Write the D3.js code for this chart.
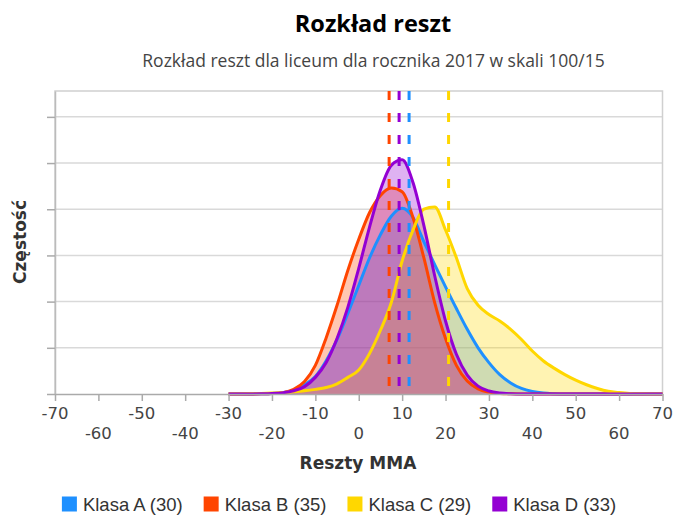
<!DOCTYPE html>
<html><head><meta charset="utf-8">
<script src="https://cdn.jsdelivr.net/npm/d3@7"></script>
<style>body{margin:0;background:#fff}svg{display:block}</style>
</head><body><svg id="c" width="678" height="518"></svg>
<script>
// ---- data ----
const xValues = [-30,-27.5,-25,-22.5,-20,-17.5,-15,-12.5,-10,-7.5,-5,-2.5,0,2.5,5,7.5,10,12.5,15,17.5,20,22.5,25,27.5,30,32.5,35,37.5,40,42.5,45,47.5,50,52.5,55,57.5,60,62.5,65,67.5,70];
const klasaA = [0,0,0.002,0.005,0.012,0.03,0.08,0.2,0.38,0.72,1.18,1.75,2.35,2.95,3.45,3.85,4.02,3.82,3.3,2.8,2.32,1.85,1.4,1.0,0.68,0.42,0.24,0.12,0.055,0.02,0.006,0,0,0,0,0,0,0,0,0,0];
const klasaB = [0,0,0,0.003,0.01,0.03,0.1,0.27,0.62,1.22,1.92,2.68,3.35,3.93,4.3,4.46,4.38,3.82,2.95,1.98,1.2,0.62,0.28,0.11,0.04,0.012,0.003,0,0,0,0,0,0,0,0,0,0,0,0,0,0];
const klasaC = [0,0.002,0.005,0.01,0.02,0.035,0.05,0.07,0.1,0.14,0.22,0.36,0.52,0.88,1.38,1.98,2.88,3.55,4.0,4.05,3.55,2.95,2.28,1.92,1.72,1.58,1.4,1.18,0.93,0.72,0.56,0.42,0.3,0.2,0.12,0.06,0.03,0.01,0.003,0,0];
const klasaD = [0,0,0.002,0.004,0.01,0.028,0.07,0.16,0.36,0.68,1.2,1.88,2.72,3.62,4.42,4.95,5.07,4.58,3.65,2.56,1.58,0.86,0.41,0.17,0.064,0.02,0.005,0,0,0,0,0,0,0,0,0,0,0,0,0,0];
const seriesNames = ["Klasa A (30)","Klasa B (35)","Klasa C (29)","Klasa D (33)"];
const seriesMeans = [11.6, 7.0, 20.7, 9.3];
const seriesColors = ["#1E90FF","#FF4500","#FFD700","#9400D3"];
const xTicks = [-70,-60,-50,-40,-30,-20,-10,0,10,20,30,40,50,60,70];
const yTicks = [0,1,2,3,4,5,6];
const titleText = "Rozkład reszt";
const subtitleText = "Rozkład reszt dla liceum dla rocznika 2017 w skali 100/15";
const xTitle = "Reszty MMA";
const yTitle = "Częstość";

const seriesValues = [klasaA, klasaB, klasaC, klasaD];
const series = seriesNames.map((n,i)=>({name:n, mean:seriesMeans[i], color:seriesColors[i],
  pts:xValues.map((x,j)=>({x, y:seriesValues[i][j]}))}));

// ---- layout ----
const L=55, R=662.5, T=91, B=394;
const svg = d3.select("#c");
const x = d3.scaleLinear().domain([-70,70]).range([L,R]);
const y = d3.scaleLinear().domain([0,6.56]).range([B,T]);

// titles
svg.append("text").attr("x",373).attr("y",32).attr("text-anchor","middle")
  .attr("font-family","'Open Sans',sans-serif").attr("font-weight","bold").attr("font-size",23.5)
  .attr("fill","#000").text(titleText);
svg.append("text").attr("x",373.5).attr("y",67).attr("text-anchor","middle")
  .attr("font-family","'Open Sans',sans-serif").attr("font-size",17.5)
  .attr("fill","#444").text(subtitleText);

// grid
svg.append("g").selectAll("line").data(yTicks.filter(d=>d>0)).join("line")
  .attr("x1",L).attr("x2",R).attr("y1",d=>y(d)).attr("y2",d=>y(d))
  .attr("stroke","#d9d9d9").attr("stroke-width",1.5);
// frame
svg.append("path").attr("d",`M${L},${B}V${T}H${R}V${B}`).attr("fill","none")
  .attr("stroke","#d0d0d0").attr("stroke-width",1.5);

// y axis ticks
const yAxis = d3.axisLeft(y).tickValues(yTicks).tickFormat("").tickSizeInner(8).tickSizeOuter(0);
const gy = svg.append("g").attr("transform",`translate(${L},0)`).call(yAxis);
gy.select(".domain").attr("stroke","#bbb").attr("stroke-width",1.5);
gy.selectAll(".tick line").attr("stroke","#aaa").attr("stroke-width",1.5);

// series
const area = d3.area().x(d=>x(d.x)).y0(y(0)).y1(d=>y(d.y)).curve(d3.curveMonotoneX);
const line = d3.line().x(d=>x(d.x)).y(d=>y(d.y)).curve(d3.curveMonotoneX);
const gs = svg.append("g");
series.forEach(s=>{
  gs.append("path").datum(s.pts).attr("d",area).attr("fill",s.color).attr("fill-opacity",0.3);
});
series.forEach(s=>{
  gs.append("path").datum(s.pts).attr("d",line).attr("fill","none").attr("stroke",s.color)
    .attr("stroke-width",3).attr("stroke-linejoin","round");
});
// mean lines
svg.append("g").selectAll("line").data(series).join("line")
  .attr("x1",d=>x(d.mean)).attr("x2",d=>x(d.mean)).attr("y1",T).attr("y2",B)
  .attr("stroke",d=>d.color).attr("stroke-width",3).attr("stroke-dasharray","9,13");

// x axis
const xAxis = d3.axisBottom(x).tickValues(xTicks).tickFormat("").tickSizeInner(7).tickSizeOuter(0);
const gx = svg.append("g").attr("transform",`translate(0,${B})`).call(xAxis);
gx.select(".domain").attr("stroke","#aaa").attr("stroke-width",1.5);
gx.selectAll(".tick line").attr("stroke","#aaa").attr("stroke-width",1.5);
svg.append("g").selectAll("text").data(xTicks).join("text")
  .attr("x",d=>x(d)).attr("y",(d,i)=> i%2===0 ? 419 : 439).attr("text-anchor","middle")
  .attr("font-family","'DejaVu Sans',sans-serif").attr("font-size",16.5).attr("fill","#444")
  .text(d=>d);

// axis titles
svg.append("text").attr("x",358).attr("y",469).attr("text-anchor","middle")
  .attr("font-family","'DejaVu Sans',sans-serif").attr("font-weight","bold").attr("font-size",17)
  .attr("fill","#333").text(xTitle);
svg.append("text").attr("transform","translate(26,242) rotate(-90)").attr("text-anchor","middle")
  .attr("font-family","'DejaVu Sans',sans-serif").attr("font-weight","bold").attr("font-size",17)
  .attr("fill","#333").text(yTitle);

// legend
const lg = svg.append("g");
let lx = 0;
series.forEach(s=>{
  const g = lg.append("g").attr("transform",`translate(${lx},0)`);
  g.append("rect").attr("x",0).attr("y",-7.5).attr("width",15).attr("height",15).attr("fill",s.color);
  const t = g.append("text").attr("x",21).attr("y",6.5).attr("font-family","'Liberation Sans',Arial,sans-serif")
    .attr("font-size",18.5).attr("fill","#333").text(s.name);
  lx += 21 + t.node().getComputedTextLength() + 21;
});
const lw = lx - 21;
lg.attr("transform",`translate(${(678-lw)/2 + 0},504)`);
</script>
</body></html>
